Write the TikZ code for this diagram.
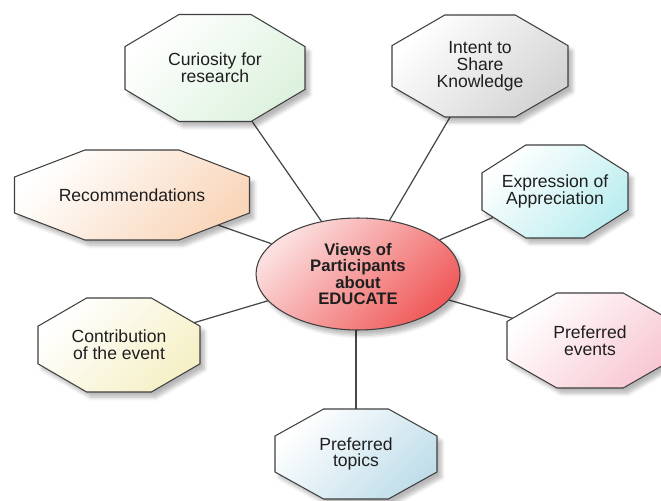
\documentclass[tikz,border=0pt]{standalone}
\usepackage{fontspec}
\setmainfont{Liberation Sans}
\usetikzlibrary{shapes.geometric,shadows.blur,backgrounds}
\definecolor{mintC}{HTML}{DDF2DE}
\definecolor{greyC}{HTML}{D4D4D4}
\definecolor{peachC}{HTML}{F9D6BA}
\definecolor{cyanC}{HTML}{BBEDEF}
\definecolor{creamC}{HTML}{F5F0C6}
\definecolor{pinkC}{HTML}{F8C8D3}
\definecolor{skyC}{HTML}{C0DEEA}
\definecolor{hubLo}{HTML}{FCE0E0}
\definecolor{hubHi}{HTML}{F05A5A}

\begin{document}
\begin{tikzpicture}[x=0.02cm,y=0.02cm,font=\fontsize{10}{9.6}\selectfont,
  box/.style={align=center,text=black!88,inner sep=0pt},
  oct/.style={draw=black!75,line width=0.6pt,top color=white,bottom color=#1,shading angle=45,
    blur shadow={shadow xshift=2.5pt,shadow yshift=-3pt,shadow opacity=28,shadow blur steps=6}},
  link/.style={draw=black!72,line width=0.7pt}]
  \clip (0,0) rectangle (661,500);
  % octagons round the hub: name/x/y/half width/half height/colour/text
  \foreach \nm/\x/\y/\w/\h/\c/\t in {
      cur/215/432/90/53.5/mintC/{Curiosity for\\research},
      intent/480/434/88/51/greyC/{Intent to\\Share\\Knowledge},
      rec/132/305/117.5/45/peachC/{Recommendations},
      expr/555/308.5/73/46.5/cyanC/{Expression of\\Appreciation},
      contr/119/155/81/47/creamC/{Contribution\\of the event},
      events/590/159.5/83/47.5/pinkC/{Preferred\\events},
      topics/356/46/81/45/skyC/{Preferred\\topics}} {
    \path[oct=\c] (\x-0.4*\w,\y+\h) -- (\x+0.4*\w,\y+\h) -- (\x+\w,\y+0.4*\h) -- (\x+\w,\y-0.4*\h)
      -- (\x+0.4*\w,\y-\h) -- (\x-0.4*\w,\y-\h) -- (\x-\w,\y-0.4*\h) -- (\x-\w,\y+0.4*\h) -- cycle;
    \node[box] (\nm) at (\x,\y) {\t};}
  % hub
  \node[ellipse,draw=black!75,line width=0.6pt,minimum width=4.08cm,minimum height=2.24cm,inner sep=0pt,
    top color=hubLo,bottom color=hubHi,shading angle=45,align=center,text=black!88,
    font=\fontsize{9.5}{9.3}\selectfont\bfseries,
    blur shadow={shadow xshift=2.5pt,shadow yshift=-3pt,shadow opacity=28,shadow blur steps=6}]
    (views) at (358,226) {Views of\\Participants\\about\\EDUCATE};
  % spokes
  \begin{scope}[on background layer]
    \foreach \nm in {cur,intent,rec,expr,contr,events} \draw[link] (views) -- (\nm);
    \draw[link] (topics) -- (topics |- views);
  \end{scope}
\end{tikzpicture}
\end{document}
